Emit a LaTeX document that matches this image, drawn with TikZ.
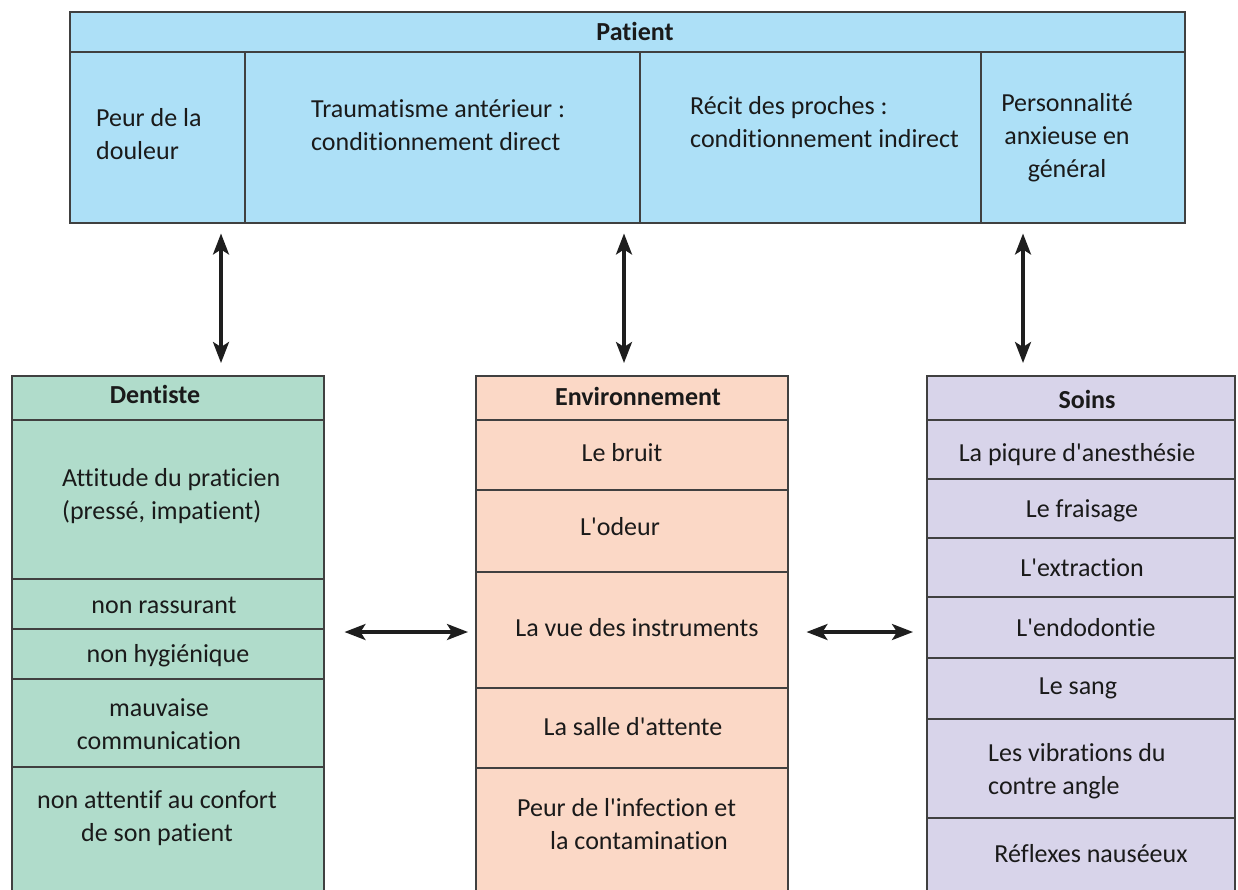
\documentclass[tikz,border=0pt]{standalone}
\usepackage{fontspec}
\setmainfont{Carlito}[Ligatures={TeXOff,CommonOff}]
\usetikzlibrary{arrows.meta}
\definecolor{pblue}{HTML}{ADE0F7}
\definecolor{dgreen}{HTML}{B0DCCB}
\definecolor{epeach}{HTML}{FBD8C6}
\definecolor{slav}{HTML}{D8D4EA}
\definecolor{bord}{HTML}{404040}
\definecolor{ink}{HTML}{1A1A1A}
\definecolor{arrowc}{HTML}{1E1E1E}
\begin{document}
\begin{tikzpicture}[x=1pt,y=-1pt,
  box/.style={draw=bord, line width=1.5pt, anchor=north west, inner sep=0pt},
  cell/.style={draw=bord, line width=1.5pt},
  txt/.style={font=\fontsize{26}{33}\selectfont, text=ink, inner sep=0pt},
  hdr/.style={font=\fontsize{26}{33}\selectfont\bfseries, text=ink, inner sep=0pt},
  arr/.style={{Stealth[length=21pt,width=16pt,inset=5pt]}-{Stealth[length=21pt,width=16pt,inset=5pt]}, line width=3.2pt, draw=arrowc}]
\useasboundingbox (0,0) rectangle (1238,889);
\begin{scope}
\clip (0,0) rectangle (1238,889);
% Patient
\node[box, fill=pblue, minimum width=1115pt, minimum height=211pt] (patient) at (69,11) {};
\draw[cell] (69,52) -- (1184,52);
\draw[cell] (245,52) -- (245,222);
\draw[cell] (640,52) -- (640,222);
\draw[cell] (981,52) -- (981,222);
\node[hdr] (pt) at (635,31) {Patient};
\node[txt, align=left, anchor=west] (p1) at (96,134) {Peur de la\\douleur};
\node[txt, align=left, anchor=west] (p2) at (311,125) {Traumatisme antérieur :\\conditionnement direct};
\node[txt, align=left, anchor=west] (p3) at (690,122) {Récit des proches :\\conditionnement indirect};
\node[txt, align=center] (p4) at (1067,138) {Personnalité\\anxieuse en\\général};
% Dentiste
\node[box, fill=dgreen, minimum width=312pt, minimum height=540pt] (dent) at (11,375) {};
\draw[cell] (11,420) -- (323,420);
\draw[cell] (11,579) -- (323,579);
\draw[cell] (11,629) -- (323,629);
\draw[cell] (11,679) -- (323,679);
\draw[cell] (11,767) -- (323,767);
\node[hdr] (dh) at (155,394) {Dentiste};
\node[txt, align=left, anchor=west] (d1) at (62,496) {Attitude du praticien\\(pressé, impatient)};
\node[txt] (d2) at (164,605) {non rassurant};
\node[txt] (d3) at (168,656) {non hygiénique};
\node[txt, align=center] (d4) at (159,724) {mauvaise\\communication};
\node[txt, align=center] (d5) at (157,818) {non attentif au confort\\de son patient};
% Environnement
\node[box, fill=epeach, minimum width=312pt, minimum height=540pt] (env) at (475,375) {};
\draw[cell] (475,420) -- (787,420);
\draw[cell] (475,490) -- (787,490);
\draw[cell] (475,572) -- (787,572);
\draw[cell] (475,688) -- (787,688);
\draw[cell] (475,768) -- (787,768);
\node[hdr] (eh) at (638,396) {Environnement};
\node[txt] (e1) at (622,453) {Le bruit};
\node[txt] (e2) at (620,527) {L'odeur};
\node[txt] (e3) at (637,628) {La vue des instruments};
\node[txt] (e4) at (633,727) {La salle d'attente};
\node[txt, align=left, anchor=west] (e5) at (517,824) {Peur de l'infection et\\\hspace*{33pt}la contamination};
% Soins
\node[box, fill=slav, minimum width=308pt, minimum height=540pt] (soins) at (926,375) {};
\draw[cell] (926,420) -- (1234,420);
\draw[cell] (926,479) -- (1234,479);
\draw[cell] (926,538) -- (1234,538);
\draw[cell] (926,597) -- (1234,597);
\draw[cell] (926,658) -- (1234,658);
\draw[cell] (926,719) -- (1234,719);
\draw[cell] (926,818) -- (1234,818);
\node[hdr] (sh) at (1087,399) {Soins};
\node[txt] (s1) at (1077,455) {La piqure d'anesthésie};
\node[txt] (s2) at (1082,511) {Le fraisage};
\node[txt] (s3) at (1082,568) {L'extraction};
\node[txt] (s4) at (1086,628) {L'endodontie};
\node[txt] (s5) at (1078,688) {Le sang};
\node[txt, align=left, anchor=west] (s6) at (988,771) {Les vibrations du\\contre angle};
\node[txt] (s7) at (1091,854) {Réflexes nauséeux};
\end{scope}
% connectors
\coordinate (ax1) at (221,0);
\coordinate (ax2) at (624,0);
\coordinate (ax3) at (1023,0);
\coordinate (ay) at (0,632);
\draw[arr, shorten <=10pt, shorten >=12pt] (patient.south -| ax1) -- (dent.north -| ax1);
\draw[arr, shorten <=10pt, shorten >=12pt] (patient.south -| ax2) -- (env.north -| ax2);
\draw[arr, shorten <=10pt, shorten >=12pt] (patient.south -| ax3) -- (soins.north -| ax3);
\draw[arr, shorten <=20pt, shorten >=7pt] (dent.east |- ay) -- (env.west |- ay);
\draw[arr, shorten <=18pt, shorten >=13pt] (env.east |- ay) -- (soins.west |- ay);
\end{tikzpicture}
\end{document}
